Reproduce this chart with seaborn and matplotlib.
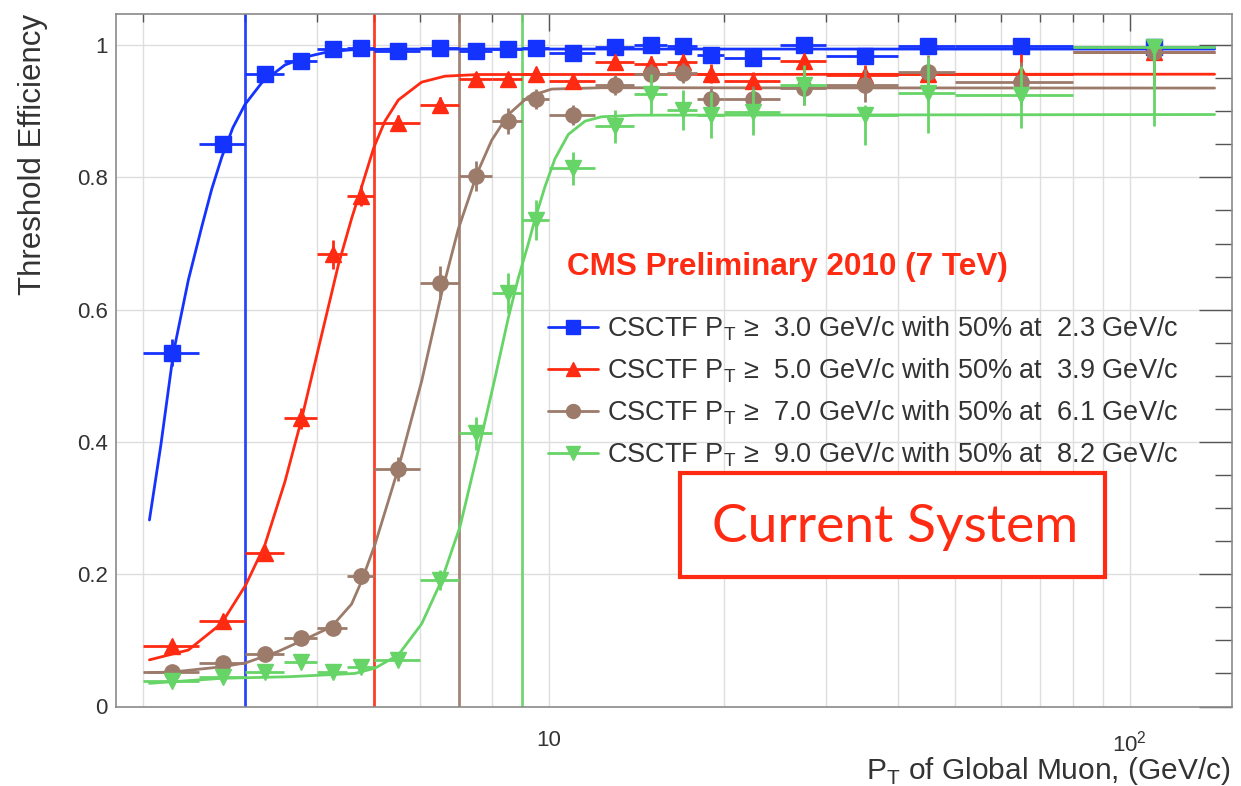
import numpy as np
import pandas as pd
import matplotlib
matplotlib.use("Agg")
import matplotlib.pyplot as plt
import seaborn as sns
from matplotlib.lines import Line2D
from matplotlib.patches import Rectangle

# ---------------- data ----------------
bin_edges = [2, 2.5, 3, 3.5, 4, 4.5, 5, 6, 7, 8, 9, 10, 12, 14, 16, 18, 20, 25, 30, 40, 50, 80, 140]
pt_centers = [2.25, 2.75, 3.25, 3.75, 4.25, 4.75, 5.5, 6.5, 7.5, 8.5, 9.5, 11, 13, 15, 17, 19, 22.5, 27.5, 35, 45, 65, 110]

thresholds = [3.0, 5.0, 7.0, 9.0]
half_points = [2.3, 3.9, 6.1, 8.2]

eff_pt3 = [0.535, 0.850, 0.957, 0.976, 0.994, 0.996, 0.991, 0.995, 0.991, 0.994, 0.995, 0.988,
           0.997, 1.000, 0.998, 0.985, 0.981, 1.000, 0.983, 0.998, 0.998, 0.997]
err_lo_pt3 = [0.020, 0.012, 0.008, 0.006, 0.004, 0.004, 0.004, 0.004, 0.004, 0.004, 0.004, 0.005,
              0.004, 0.004, 0.004, 0.010, 0.010, 0.006, 0.010, 0.010, 0.010, 0.020]
err_hi_pt3 = [0.020, 0.012, 0.008, 0.006, 0.004, 0.004, 0.004, 0.004, 0.004, 0.004, 0.004, 0.005,
              0.003, 0.000, 0.002, 0.008, 0.008, 0.000, 0.008, 0.002, 0.002, 0.003]

eff_pt5 = [0.0915, 0.130, 0.2325, 0.4357, 0.6836, 0.772, 0.8816, 0.910, 0.9486, 0.9486, 0.957, 0.9456,
           0.974, 0.972, 0.975, 0.957, 0.945, 0.976, 0.955, 0.957, 0.956, 0.990]
err_lo_pt5 = [0.008, 0.010, 0.012, 0.016, 0.022, 0.016, 0.012, 0.012, 0.010, 0.010, 0.010, 0.010,
              0.012, 0.012, 0.012, 0.015, 0.015, 0.015, 0.015, 0.020, 0.025, 0.040]
err_hi_pt5 = [0.008, 0.010, 0.012, 0.016, 0.022, 0.016, 0.012, 0.012, 0.010, 0.010, 0.010, 0.010,
              0.012, 0.012, 0.012, 0.015, 0.015, 0.012, 0.015, 0.020, 0.030, 0.008]

eff_pt7 = [0.0526, 0.0653, 0.0794, 0.103, 0.119, 0.197, 0.3586, 0.641, 0.802, 0.885, 0.918, 0.894,
           0.9395, 0.957, 0.958, 0.918, 0.918, 0.935, 0.9395, 0.960, 0.9446, 0.990]
err_lo_pt7 = [0.004, 0.005, 0.006, 0.008, 0.010, 0.012, 0.018, 0.025, 0.022, 0.020, 0.015, 0.015,
              0.015, 0.015, 0.015, 0.020, 0.020, 0.025, 0.025, 0.030, 0.035, 0.050]
err_hi_pt7 = [0.004, 0.005, 0.006, 0.008, 0.010, 0.012, 0.018, 0.025, 0.022, 0.020, 0.015, 0.015,
              0.015, 0.015, 0.015, 0.020, 0.020, 0.025, 0.025, 0.025, 0.030, 0.008]

eff_pt9 = [0.0386, 0.045, 0.0526, 0.0668, 0.0526, 0.0593, 0.0703, 0.191, 0.413, 0.6256, 0.7355, 0.8136,
           0.8776, 0.926, 0.9017, 0.894, 0.899, 0.9395, 0.894, 0.927, 0.924, 0.9975]
err_lo_pt9 = [0.004, 0.004, 0.005, 0.006, 0.005, 0.006, 0.008, 0.015, 0.025, 0.030, 0.030, 0.025,
              0.025, 0.030, 0.030, 0.035, 0.035, 0.030, 0.045, 0.060, 0.050, 0.120]
err_hi_pt9 = [0.004, 0.004, 0.005, 0.006, 0.005, 0.006, 0.008, 0.015, 0.025, 0.030, 0.030, 0.025,
              0.025, 0.030, 0.030, 0.035, 0.035, 0.030, 0.015, 0.055, 0.045, 0.002]

# fitted turn-on curves
fit_pt3 = [2.055, 2.15, 2.26, 2.398, 2.528, 2.63, 2.736, 2.86, 3.0, 3.207, 3.516, 3.859, 4.176, 4.6,
           5.5, 140]
fit_eff3 = [0.282, 0.395, 0.535, 0.645, 0.725, 0.782, 0.830, 0.875, 0.910, 0.943, 0.970, 0.983, 0.990,
            0.993, 0.994, 0.994]

fit_pt5 = [2.055, 2.398, 2.736, 3.01, 3.249, 3.516, 3.757, 4.067, 4.346, 4.58, 4.766, 5.0, 5.226,
           5.511, 6.045, 6.63, 7.57, 140]
fit_eff5 = [0.0705, 0.0854, 0.1258, 0.1837, 0.245, 0.340, 0.435, 0.562, 0.668, 0.738, 0.786, 0.845,
            0.885, 0.917, 0.944, 0.953, 0.9555, 0.956]

fit_pt7 = [2.055, 2.245, 2.736, 3.01, 3.418, 3.807, 4.23, 4.58, 4.766, 5.024, 5.511, 6.045, 6.543,
           6.99, 7.546, 7.977, 8.523, 9.227, 10.12, 12.33, 140]
fit_eff7 = [0.0514, 0.052, 0.060, 0.066, 0.083, 0.1016, 0.1206, 0.155, 0.190, 0.245, 0.360, 0.492,
            0.625, 0.722, 0.808, 0.856, 0.895, 0.922, 0.9335, 0.9355, 0.935]

fit_pt9 = [2.055, 2.736, 3.565, 4.64, 5.024, 5.511, 6.045, 6.543, 7.037, 7.568, 8.085, 8.523, 8.867,
           9.227, 9.472, 9.855, 10.25, 10.81, 11.55, 12.33, 14.08, 140]
fit_eff9 = [0.035, 0.0426, 0.045, 0.050, 0.058, 0.078, 0.125, 0.191, 0.272, 0.388, 0.497, 0.588, 0.648,
            0.700, 0.737, 0.786, 0.828, 0.865, 0.885, 0.8916, 0.894, 0.895]

x_ticks = [10, 100]
x_tick_labels = ["10", r"10$^{\mathregular{2}}$"]
x_minor = [2, 3, 4, 5, 6, 7, 8, 9, 20, 30, 40, 50, 60, 70, 80, 90]
y_ticks = [0, 0.2, 0.4, 0.6, 0.8, 1.0]
y_tick_labels = ["0", "0.2", "0.4", "0.6", "0.8", "1"]

# ---------------- style ----------------
sns.set_theme(style="white")
plt.rcParams["font.family"] = ["Liberation Sans", "DejaVu Sans"]
plt.rcParams["mathtext.fontset"] = "custom"
plt.rcParams["mathtext.rm"] = "Liberation Sans"

colors = ["#1533ff", "#ff2a12", "#9c7b6b", "#66d466"]
markers = ["s", "^", "o", "v"]
msizes = [11, 11, 11, 11]

fig = plt.figure(figsize=(12.41, 7.86), dpi=100)
ax = fig.add_axes([116 / 1241, 79.5 / 786, 1116 / 1241, 692.5 / 786])
ax.set_xscale("log")

# grid
for xv in x_minor + x_ticks:
    ax.axvline(xv, color="#dedede", lw=1.0, zorder=0)
for yv in y_ticks:
    ax.axhline(yv, color="#dedede", lw=1.0, zorder=0)

# threshold lines
for t, c in zip(thresholds, colors):
    ax.axvline(t, color=c, lw=2.0, zorder=2, alpha=0.9)

centers = np.array(pt_centers)
lo_edges = np.array(bin_edges[:-1])
hi_edges = np.array(bin_edges[1:])
xerr = [centers - lo_edges, hi_edges - centers]

series = [
    (eff_pt3, err_lo_pt3, err_hi_pt3, fit_pt3, fit_eff3),
    (eff_pt5, err_lo_pt5, err_hi_pt5, fit_pt5, fit_eff5),
    (eff_pt7, err_lo_pt7, err_hi_pt7, fit_pt7, fit_eff7),
    (eff_pt9, err_lo_pt9, err_hi_pt9, fit_pt9, fit_eff9),
]

for i, (eff, elo, ehi, fpt, feff) in enumerate(series):
    c = colors[i]
    fit_df = pd.DataFrame({"pt": fpt, "eff": feff})
    sns.lineplot(data=fit_df, x="pt", y="eff", ax=ax, color=c, lw=2.0, zorder=3 + i * 0.1,
                 legend=False, sort=True, estimator=None)
    ax.errorbar(pt_centers, eff, xerr=xerr, yerr=[elo, ehi], fmt=markers[i], color=c,
                ms=msizes[i], mec=c, mfc=c, elinewidth=2.0, capsize=0, zorder=4 + i * 0.1)

ax.set_xlim(1.8, 150)
ax.set_ylim(0, 1.047)

ax.set_xticks(x_ticks)
ax.set_xticklabels(x_tick_labels)
ax.set_xticks(x_minor, minor=True)
ax.set_xticklabels([], minor=True)
ax.set_yticks(y_ticks)
ax.set_yticklabels(y_tick_labels)
ax.set_yticks(np.arange(0, 1.05, 0.05), minor=True)

ax.tick_params(axis="both", which="both", direction="in", top=True, right=True,
               colors="#555555", labelcolor="#333333", labelsize=16)
ax.tick_params(axis="y", which="major", length=24, width=1)
ax.tick_params(axis="y", which="minor", length=12, width=1)
ax.tick_params(axis="x", which="major", length=12, width=1, pad=17)
ax.tick_params(axis="x", which="minor", length=6, width=1)
ax.tick_params(axis="y", which="major", pad=6)

for sp in ax.spines.values():
    sp.set_color("#8a8a8a")
    sp.set_linewidth(1.2)

ax.set_xlabel(r"P$_{\mathregular{T}}$ of Global Muon, (GeV/c)", fontsize=21.5, color="#333333")
ax.xaxis.set_label_coords(0.9985, -0.0935)
ax.xaxis.label.set_ha("right")
ax.xaxis.label.set_va("center")
ax.set_ylabel("Threshold Efficiency", fontsize=22.5, color="#333333")
ax.yaxis.set_label_coords(-0.074, 1.0)
ax.yaxis.label.set_ha("right")
ax.yaxis.label.set_va("center")

# legend
handles = [Line2D([], [], color=c, marker=m, ms=10, lw=2) for c, m in zip(colors, markers)]
labels = [f"CSCTF P$_{{\\mathregular{{T}}}}$ ≥ {t:4.1f} GeV/c with 50% at {h:4.1f} GeV/c"
          for t, h in zip(thresholds, half_points)]
leg = ax.legend(handles, labels, loc="upper left", bbox_to_anchor=(0.387, 0.566), frameon=False,
                fontsize=19.5, handlelength=1.85, handletextpad=0.35, labelspacing=0.5,
                borderaxespad=0, borderpad=0)
for txt in leg.get_texts():
    txt.set_color("#333333")

ax.text(0.404, 0.635, "CMS Preliminary 2010 (7 TeV)", transform=ax.transAxes, ha="left",
        va="center", fontsize=22.7, fontweight="bold", color="#ff2a12")

# "Current System" box
ax.add_patch(Rectangle((0.5054, 0.187), 0.3806, 0.150, transform=ax.transAxes, facecolor="white",
                       edgecolor="#ff2a12", lw=3.0, zorder=6))
ax.text(0.698, 0.259, "Current System", transform=ax.transAxes, ha="center", va="center",
        fontsize=38.5, color="#ff2a12", family=["Lato", "DejaVu Sans"], zorder=7)

fig.savefig("out.png", dpi=100)
